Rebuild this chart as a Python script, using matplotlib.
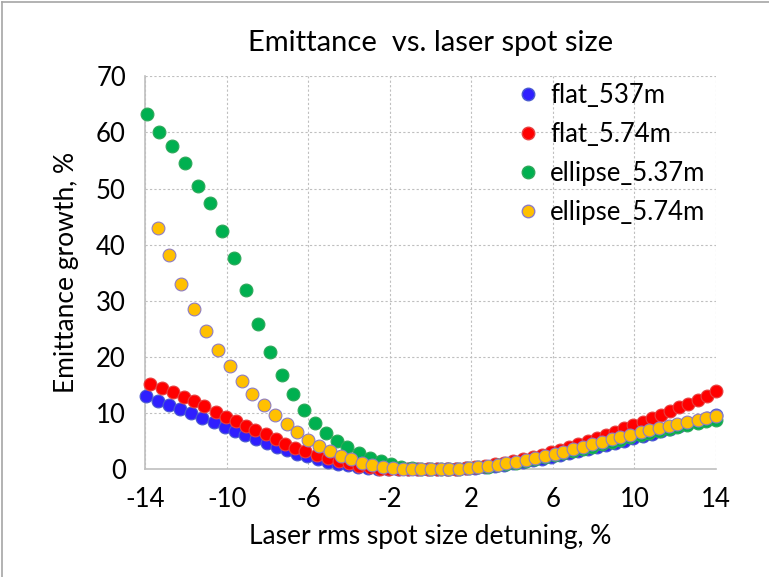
import matplotlib
matplotlib.use("Agg")
import matplotlib.pyplot as plt
from matplotlib.lines import Line2D

plt.rcParams['font.family'] = ['Lato', 'DejaVu Sans']
plt.rcParams['axes.unicode_minus'] = False

# detuning (%) and emittance growth (%)
x_flat = [-13.95, -13.4, -12.85, -12.3, -11.75, -11.2, -10.65, -10.1, -9.6, -9.1,
          -8.55, -8.05, -7.55, -7.05, -6.55, -6.05, -5.55, -5.05, -4.55, -4.05,
          -3.55, -3.05, -2.6, -2.1, -1.6, -1.1, -0.65, -0.15, 0.3, 0.8,
          1.25, 1.75, 2.2, 2.65, 3.15, 3.6, 4.05, 4.55, 5.0, 5.45,
          5.9, 6.35, 6.8, 7.25, 7.7, 8.15, 8.6, 9.05, 9.5, 9.95,
          10.4, 10.85, 11.3, 11.75, 12.2, 12.65, 13.1, 13.55, 14.0]
y_flat_537 = [13.0, 12.2, 11.5, 10.7, 10.0, 9.2, 8.4, 7.6, 6.8, 6.1,
              5.4, 4.7, 3.9, 3.4, 2.8, 2.3, 1.8, 1.4, 1.0, 0.7,
              0.45, 0.25, 0.1, 0.03, 0.0, 0.0, 0.0, 0.0, 0.0, 0.05,
              0.1, 0.2, 0.3, 0.45, 0.6, 0.85, 1.1, 1.35, 1.6, 1.9,
              2.2, 2.5, 2.85, 3.2, 3.55, 3.9, 4.3, 4.7, 5.1, 5.5,
              5.9, 6.35, 6.8, 7.25, 7.7, 8.2, 8.7, 9.2, 9.7]

x_flat_574 = [-13.75, -13.2, -12.65, -12.1, -11.6, -11.1, -10.55, -10.05, -9.55, -9.05,
              -8.6, -8.1, -7.6, -7.15, -6.65, -6.15, -5.6, -5.05, -4.5, -4.0,
              -3.5, -3.0, -2.5, -2.05, -1.55, -1.1, -0.6, -0.15, 0.3, 0.8,
              1.25, 1.75, 2.2, 2.65, 3.15, 3.6, 4.05, 4.55, 5.0, 5.45,
              5.9, 6.35, 6.8, 7.25, 7.7, 8.15, 8.6, 9.05, 9.5, 9.95,
              10.4, 10.85, 11.3, 11.75, 12.2, 12.65, 13.1, 13.55, 14.0]
y_flat_574 = [15.2, 14.4, 13.7, 12.8, 12.1, 11.2, 10.3, 9.4, 8.6, 7.7,
              7.0, 6.3, 5.4, 4.5, 3.8, 3.2, 2.6, 2.1, 1.5, 1.1,
              0.6, 0.35, 0.15, 0.05, 0.0, 0.0, 0.0, 0.0, 0.0, 0.05,
              0.15, 0.3, 0.45, 0.65, 0.9, 1.15, 1.45, 1.8, 2.15, 2.6,
              3.05, 3.5, 4.0, 4.5, 5.0, 5.55, 6.1, 6.7, 7.3, 7.9,
              8.5, 9.1, 9.75, 10.4, 11.05, 11.7, 12.4, 13.1, 13.9]

x_ell_537 = [-13.94, -13.32, -12.69, -12.05, -11.44, -10.82, -10.22, -9.63, -9.04, -8.45,
             -7.88, -7.31, -6.74, -6.22, -5.69, -5.15, -4.61, -4.09, -3.53, -3.0,
             -2.46, -1.93, -1.43, -0.93, -0.45, 0.0, 0.5, 0.9, 1.4, 1.9,
             2.3, 2.8, 3.3, 3.7, 4.2, 4.7, 5.1, 5.6, 6.1, 6.5,
             7.0, 7.5, 7.9, 8.4, 8.9, 9.3, 9.8, 10.3, 10.7, 11.2,
             11.7, 12.1, 12.6, 13.1, 13.5, 14.0]
y_ell_537 = [63.2, 60.1, 57.6, 54.6, 50.5, 47.5, 42.4, 37.6, 32.0, 25.9,
             20.9, 16.8, 13.4, 10.5, 8.3, 6.5, 5.0, 3.9, 2.9, 2.1,
             1.5, 0.9, 0.5, 0.2, 0.05, 0.0, 0.0, 0.05, 0.1, 0.2,
             0.35, 0.5, 0.7, 0.9, 1.2, 1.5, 1.8, 2.15, 2.5, 2.85,
             3.25, 3.65, 4.0, 4.45, 4.85, 5.25, 5.7, 6.1, 6.45, 6.85,
             7.25, 7.6, 7.95, 8.3, 8.55, 8.8]

x_ell_574 = [-13.40, -12.83, -12.23, -11.61, -11.03, -10.45, -9.84, -9.28, -8.75, -8.19,
             -7.62, -7.05, -6.54, -6.02, -5.50, -4.96, -4.42, -3.89, -3.37, -2.86,
             -2.34, -1.85, -1.36, -0.92, -0.45, 0.0, 0.5, 0.9, 1.4, 1.9,
             2.3, 2.8, 3.3, 3.7, 4.2, 4.7, 5.1, 5.6, 6.1, 6.5,
             7.0, 7.5, 7.9, 8.4, 8.9, 9.3, 9.8, 10.3, 10.7, 11.2,
             11.7, 12.1, 12.6, 13.1, 13.5, 14.0]
y_ell_574 = [43.0, 38.1, 33.0, 28.5, 24.7, 21.3, 18.4, 15.8, 13.4, 11.5,
             9.7, 8.1, 6.6, 5.3, 4.2, 3.3, 2.4, 1.8, 1.2, 0.75,
             0.45, 0.2, 0.05, 0.0, 0.0, 0.0, 0.0, 0.05, 0.15, 0.25,
             0.4, 0.6, 0.8, 1.05, 1.35, 1.7, 2.0, 2.4, 2.8, 3.15,
             3.6, 4.05, 4.45, 4.9, 5.35, 5.75, 6.2, 6.65, 7.0, 7.4,
             7.8, 8.15, 8.5, 8.85, 9.15, 9.45]

labels = ["flat_537m", "flat_5.74m", "ellipse_5.37m", "ellipse_5.74m"]
xticks = [-14, -10, -6, -2, 2, 6, 10, 14]
yticks = [0, 10, 20, 30, 40, 50, 60, 70]

fig = plt.figure(figsize=(7.69, 5.77), dpi=100)
ax = fig.add_axes([0.189, 0.1865, 0.742, 0.6815])

series = [
    (x_flat, y_flat_537, "#2F1FFF", "#4A5BD0"),
    (x_flat_574, y_flat_574, "#FF0000", "#E84040"),
    (x_ell_537, y_ell_537, "#00B050", "#2EA85A"),
    (x_ell_574, y_ell_574, "#FFC000", "#8E7CC3"),
]
for (xs, ys, fc, ec), lab in zip(series, labels):
    ax.scatter(xs, ys, s=85, color=fc, edgecolors=ec, linewidths=0.8,
               label=lab, zorder=3, clip_on=False)

ax.set_xlim(-14, 14)
ax.set_ylim(0, 70)
ax.set_xticks(xticks)
ax.set_yticks(yticks)
ax.tick_params(length=0, labelsize=18.5)
ax.tick_params(axis="y", pad=14)
ax.tick_params(axis="x", pad=13)
ax.grid(True, color="#BFBFBF", linestyle=(0, (2, 2)), linewidth=0.8)
ax.set_axisbelow(True)
for side in ["top", "right"]:
    ax.spines[side].set_visible(False)
for side in ["left", "bottom"]:
    ax.spines[side].set_color("#BFBFBF")
    ax.spines[side].set_linewidth(1.2)

ax.set_title("Emittance  vs. laser spot size", fontsize=21, pad=18)
ax.set_xlabel("Laser rms spot size detuning, %", fontsize=19, labelpad=8)
ax.set_ylabel("Emittance growth, %", fontsize=19, labelpad=12)

handles = [Line2D([], [], marker="o", linestyle="", markersize=9,
                  markerfacecolor=s[2], markeredgecolor=s[3]) for s in series]
ax.legend(handles, labels, loc="upper right", frameon=False, fontsize=18.5,
          handlelength=0.9, handletextpad=0.4, labelspacing=0.55,
          borderaxespad=0.0, bbox_to_anchor=(1.0, 1.01))

# thin frame lines at the top and left edge of the picture
fig.add_artist(Line2D([0.003, 1.0], [0.996, 0.996], color="#A6A6A6", linewidth=1.2))
fig.add_artist(Line2D([0.003, 0.003], [0.0, 0.996], color="#A6A6A6", linewidth=1.2))

fig.savefig("out.png", dpi=100)
